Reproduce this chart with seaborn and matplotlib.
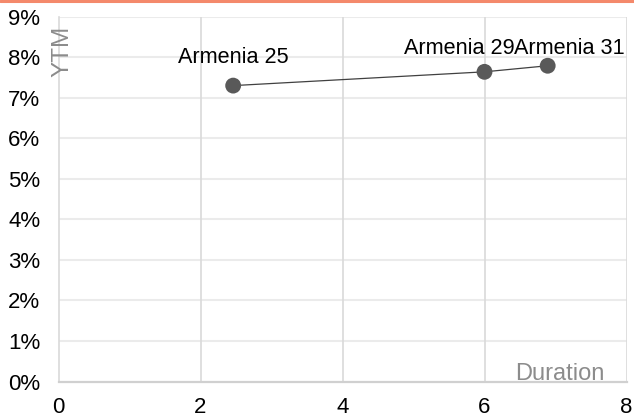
import matplotlib
matplotlib.use("Agg")
import matplotlib.pyplot as plt
import seaborn as sns
import pandas as pd
from matplotlib.lines import Line2D
from matplotlib.ticker import FuncFormatter

# ---- data ----
bonds = ["Armenia 25", "Armenia 29", "Armenia 31"]
duration = [2.46, 6.00, 6.89]
ytm = [7.30, 7.64, 7.79]  # percent
x_ticks = [0, 2, 4, 6, 8]
y_ticks = [0, 1, 2, 3, 4, 5, 6, 7, 8, 9]

df = pd.DataFrame({"bond": bonds, "duration": duration, "ytm": ytm})

sns.set_theme(style="white")
plt.rcParams["font.family"] = ["Liberation Sans", "DejaVu Sans"]

fig = plt.figure(figsize=(6.34, 4.19), dpi=100)
ax = fig.add_axes([58.5 / 634, 1 - 381.5 / 419, 568 / 634, (381.5 - 16.7) / 419])

sns.lineplot(data=df, x="duration", y="ytm", ax=ax, color="#404040",
             linewidth=0.9, sort=False, zorder=3)
sns.scatterplot(data=df, x="duration", y="ytm", ax=ax, color="#595959",
                s=130, edgecolor="none", zorder=4)

# label offsets (pixels): style, not data
label_offsets = [(0, 22.5), (-25, 17.7), (22, 11.7)]
for (b, xv, yv), off in zip(zip(bonds, duration, ytm), label_offsets):
    ax.annotate(b, (xv, yv), xytext=off, textcoords="offset pixels",
                ha="center", va="baseline", fontsize=15.6, color="#000000")

ax.set_xlim(0, 8)
ax.set_ylim(0, 9)
ax.set_xticks(x_ticks)
ax.set_yticks(y_ticks)
ax.yaxis.set_major_formatter(FuncFormatter(lambda v, p: f"{int(v)}%"))

ax.grid(False)
for yv in y_ticks[1:]:
    ax.axhline(yv, color="#ebebeb", linewidth=1.5, zorder=0)
for xv in x_ticks[1:]:
    ax.axvline(xv, color="#d9d9d9", linewidth=1.2, zorder=0)

for s in ["top", "right"]:
    ax.spines[s].set_visible(False)
ax.spines["left"].set_color("#d9d9d9")
ax.spines["left"].set_linewidth(1.2)
ax.spines["bottom"].set_color("#d0d0d0")
ax.spines["bottom"].set_linewidth(1.6)

ax.tick_params(axis="both", length=0, labelsize=16, colors="#000000")
ax.tick_params(axis="y", pad=13)
ax.tick_params(axis="x", pad=11)
ax.set_xlabel("")
ax.set_ylabel("")

ax.text(0.007, 0.906, "YTM", transform=ax.transAxes, rotation=90,
        ha="center", va="center", fontsize=17.5, color="#8c8c8c")
ax.text(0.9604, 0.004, "Duration", transform=ax.transAxes,
        ha="right", va="baseline", fontsize=17, color="#8c8c8c")

# orange top band
fig.add_artist(Line2D([0, 1], [1 - 1 / 419, 1 - 1 / 419], color="#F4896B",
                      linewidth=2.2, transform=fig.transFigure))

fig.savefig("out.png", dpi=100)
